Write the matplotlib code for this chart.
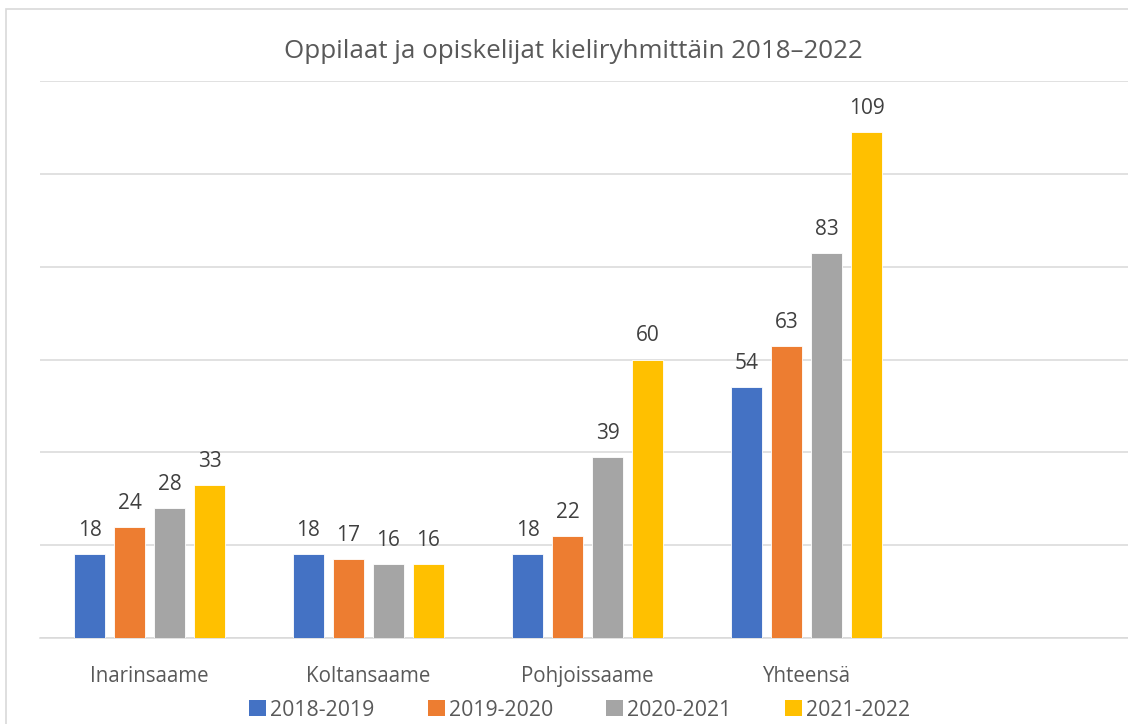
import matplotlib
matplotlib.use("Agg")
import matplotlib.pyplot as plt
import numpy as np
from matplotlib.patches import Rectangle, Patch

plt.rcParams['font.family'] = ['Open Sans', 'DejaVu Sans']

title = "Oppilaat ja opiskelijat kieliryhmittäin 2018–2022"
categories = ["Inarinsaame", "Koltansaame", "Pohjoissaame", "Yhteensä", ""]
series_names = ["2018-2019", "2019-2020", "2020-2021", "2021-2022"]
values_2018_2019 = [18, 18, 18, 54]
values_2019_2020 = [24, 17, 22, 63]
values_2020_2021 = [28, 16, 39, 83]
values_2021_2022 = [33, 16, 60, 109]
colors = ["#4472C4", "#ED7D31", "#A5A5A5", "#FFC000"]

series = [values_2018_2019, values_2019_2020, values_2020_2021, values_2021_2022]

W, H = 1128, 724
fig = plt.figure(figsize=(W / 100, H / 100), dpi=100)

# outer chart frame (cropped on right/bottom)
fig.patches.append(Rectangle((6 / W, -0.05), 1.2, (H - 9) / H + 0.05,
                             transform=fig.transFigure, fill=False,
                             edgecolor="#d9d9d9", linewidth=1.2))

left_px, cat_px = 40, 219
ax = fig.add_axes([left_px / W, (H - 638) / H, 5 * cat_px / W, (638 - 81) / H])
ax.set_xlim(-0.5, 4.5)
ax.set_ylim(0, 120)

step = 40 / cat_px
bw = 31 / cat_px
x = np.arange(4)
for i, (vals, c, name) in enumerate(zip(series, colors, series_names)):
    bars = ax.bar(x + (i - 1.5) * step, vals, width=bw, color=c,
                  edgecolor="white", linewidth=0.6, label=name, zorder=3)
    for b, v in zip(bars, vals):
        ax.annotate(str(v), (b.get_x() + b.get_width() / 2, v),
                    xytext=(0, 13), textcoords="offset points",
                    ha="center", va="baseline", fontsize=15, color="#404040")

ax.set_yticks(np.arange(0, 121, 20))
ax.yaxis.grid(True, color="#d9d9d9", linewidth=1.1, zorder=0)
ax.tick_params(axis="y", left=False, labelleft=False)
ax.set_xticks(np.arange(5))
ax.set_xticklabels(categories, fontsize=14.8, color="#595959")
ax.tick_params(axis="x", length=0, pad=20)
for s in ["top", "right", "left"]:
    ax.spines[s].set_visible(False)
ax.spines["bottom"].set_color("#d9d9d9")
ax.spines["bottom"].set_linewidth(1.1)
ax.set_facecolor("none")

fig.text(573.5 / W, (H - 58) / H, title, ha="center", va="baseline",
         fontsize=18.7, color="#595959")

handles = [Patch(facecolor=c, edgecolor="none") for c in colors]
fig.legend(handles, series_names, loc="center", bbox_to_anchor=(579.5 / W, (H - 710) / H),
           ncol=4, frameon=False, fontsize=15.3, labelcolor="#595959",
           handlelength=0.8, handleheight=0.8, handletextpad=0.2,
           columnspacing=2.5, borderpad=0, borderaxespad=0)

fig.savefig("out.png", dpi=100)
